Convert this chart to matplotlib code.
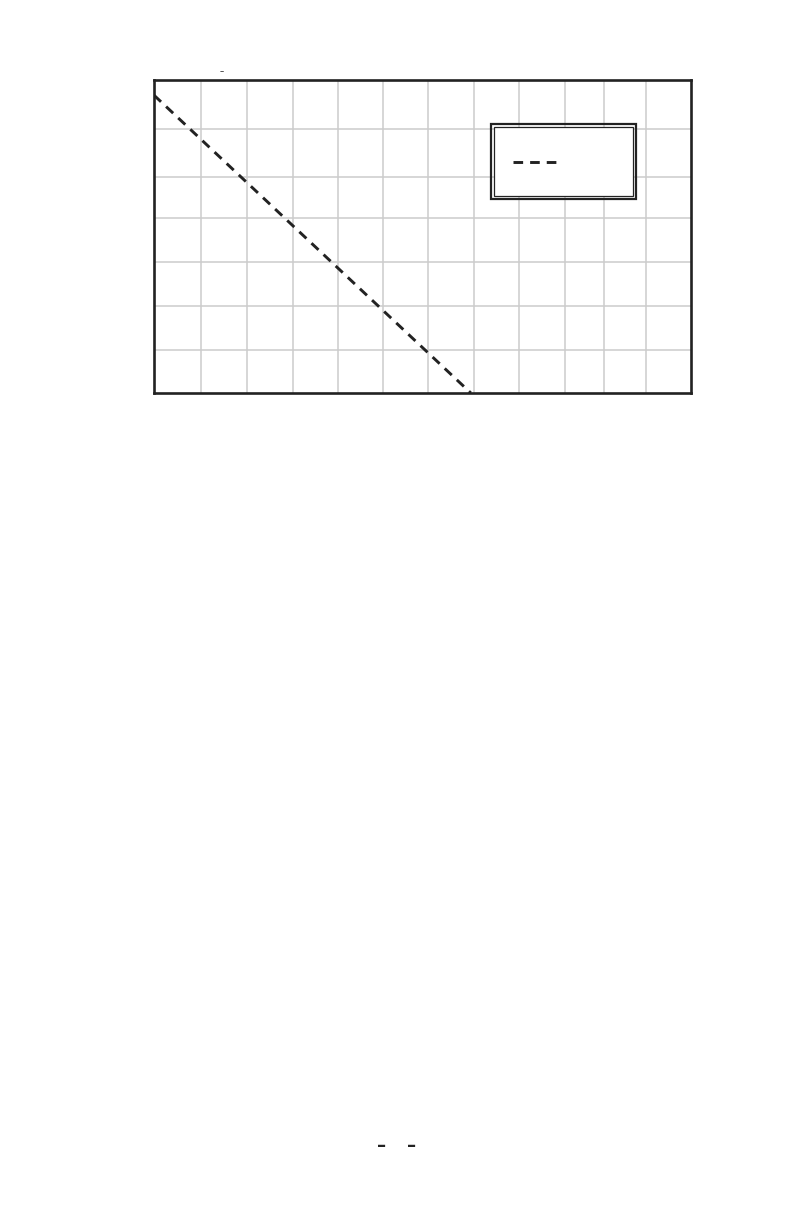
import matplotlib
matplotlib.use('Agg')
import matplotlib.pyplot as plt
from matplotlib.patches import Rectangle

# dashed series (only line drawn on the chart)
line_x = [0.0, 7.08]
line_y = [6.66, 0.0]

# grid positions as they appear on the (hand made) chart
x_grid = [1.05, 2.08, 3.11, 4.11, 5.12, 6.12, 7.15, 8.16, 9.18, 10.06, 10.99]
y_grid = [0.96, 1.95, 2.93, 3.91, 4.83, 5.9]

fig = plt.figure(figsize=(7.92, 12.24), dpi=100)
ax = fig.add_axes([154 / 792, 1 - 393 / 1224, 537 / 792, 313 / 1224])

ax.plot(line_x, line_y, color='#222222', linewidth=2.1, dashes=[3.3, 2.4],
        label=' \n ')

ax.set_xlim(0, 12)
ax.set_ylim(0, 7)
ax.set_xticks(x_grid)
ax.set_yticks(y_grid)
ax.tick_params(length=0, labelbottom=False, labelleft=False)
ax.grid(True, color='#cccccc', linewidth=1.1)
ax.set_axisbelow(True)
for s in ax.spines.values():
    s.set_linewidth(1.9)
    s.set_color('#222222')

# legend with a double frame
leg = ax.legend(loc='upper left', bbox_to_anchor=(0.633, 0.25, 0.259, 0.6),
                mode='expand', borderaxespad=0, fancybox=False,
                handlelength=3.45, borderpad=1.4, fontsize=10, framealpha=1)
leg.get_frame().set_edgecolor('#222222')
leg.get_frame().set_linewidth(0.9)

fig.canvas.draw()
bb = leg.get_window_extent().transformed(fig.transFigure.inverted())
px, py = 3 / 792, 3 / 1224
fig.patches.append(Rectangle((bb.x0 - px, bb.y0 - py), bb.width + 2 * px, bb.height + 2 * py,
                             transform=fig.transFigure, fill=False,
                             edgecolor='#222222', linewidth=1.6))

# leftover bits of text on the page
fig.text(222 / 792, 1 - 72 / 1224, '–', fontsize=6, color='#222222', ha='center', va='center')
fig.text(382 / 792, 1 - 1146 / 1224, '–', fontsize=13, fontweight='bold', color='#222222',
         ha='center', va='center')
fig.text(412 / 792, 1 - 1146 / 1224, '–', fontsize=13, fontweight='bold', color='#222222',
         ha='center', va='center')

fig.savefig('out.png', dpi=100)
